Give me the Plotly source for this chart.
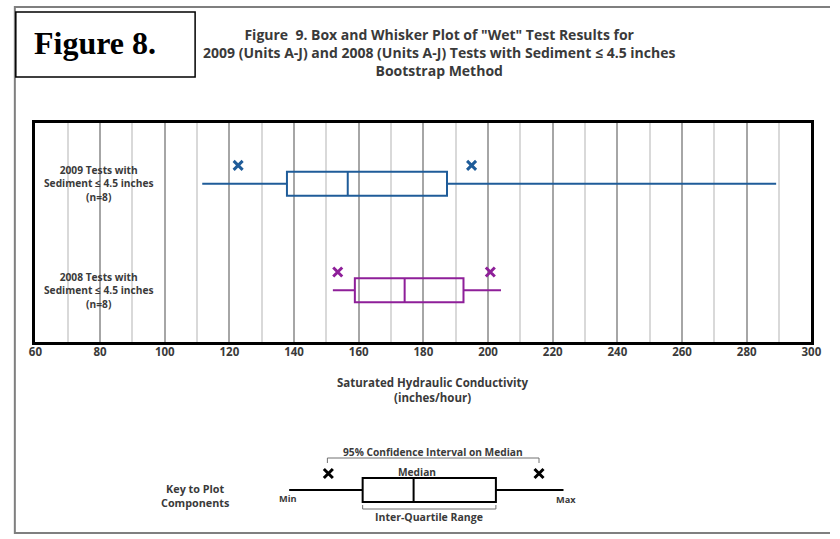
import plotly.graph_objects as go

W, H = 840, 539

# Summary statistics, saturated hydraulic conductivity (inches/hour)
group_labels = [
    "2009 Tests with<br>Sediment ≤ 4.5 inches<br>(n=8)",
    "2008 Tests with<br>Sediment ≤ 4.5 inches<br>(n=8)",
]
minimum = [111.6, 152.0]
q1 = [137.8, 158.8]
median = [156.6, 174.2]
q3 = [187.3, 192.4]
maximum = [289.1, 204.0]
ci_low = [122.7, 153.5]
ci_high = [194.9, 200.7]
x_ticks = list(range(60, 301, 20))

colors = ["#1F5C99", "#8E1F99"]
row_pos = [2, 1]
BOX_W = 0.225
X_OFFSET = 0.172

FONT = "Open Sans"
TXT = "#3a3a3a"

fig = go.Figure()

# Main box-and-whisker rows
for i in range(len(row_pos)):
    fig.add_trace(go.Box(
        orientation="h", y=[row_pos[i]],
        q1=[q1[i]], median=[median[i]], q3=[q3[i]],
        lowerfence=[minimum[i]], upperfence=[maximum[i]],
        width=BOX_W, whiskerwidth=0, boxpoints=False,
        line=dict(color=colors[i], width=2),
        fillcolor="rgba(255,255,255,0)",
        xaxis="x", yaxis="y", showlegend=False, hoverinfo="skip",
    ))
    fig.add_trace(go.Scatter(
        x=[ci_low[i], ci_high[i]], y=[row_pos[i] + X_OFFSET] * 2,
        mode="markers", xaxis="x", yaxis="y", showlegend=False, hoverinfo="skip",
        marker=dict(symbol="x-thin", size=9, line=dict(width=3, color=colors[i])),
    ))

# Key to plot components, drawn on a pixel-unit canvas axis
key_min, key_q1, key_med, key_q3, key_max = 288, 363, 415, 499, 568
key_ci = [328, 543]
key_y = 490
fig.add_trace(go.Box(
    orientation="h", y=[key_y], q1=[key_q1], median=[key_med], q3=[key_q3],
    lowerfence=[key_min], upperfence=[key_max], width=24, whiskerwidth=0,
    boxpoints=False, line=dict(color="black", width=2),
    fillcolor="rgba(255,255,255,0)", xaxis="x2", yaxis="y2",
    showlegend=False, hoverinfo="skip",
))
fig.add_trace(go.Scatter(
    x=key_ci, y=[key_y - 16.5] * 2, mode="markers", xaxis="x2", yaxis="y2",
    showlegend=False, hoverinfo="skip",
    marker=dict(symbol="x-thin", size=9, line=dict(width=3, color="black")),
))

shapes = [
    # page border: top, left and bottom edges (open to the right)
    dict(type="path", xref="x2", yref="y2",
         path="M 1000,7 L 8,7 L 8,533 L 1000,533",
         line=dict(color="#7f7f7f", width=2), layer="below"),
    # "Figure 8." frame
    dict(type="rect", xref="x2", yref="y2", x0=9, x1=192, y0=12, y1=77,
         line=dict(color="black", width=1.5)),
    # confidence interval bracket
    dict(type="path", xref="x2", yref="y2",
         path=f"M {key_ci[0]-1},463 L {key_ci[0]-1},458 L {key_ci[1]},458 L {key_ci[1]},463",
         line=dict(color="#707070", width=1)),
    # inter-quartile bracket
    dict(type="path", xref="x2", yref="y2",
         path=f"M {key_q1},505 L {key_q1},509 L {key_q3},509 L {key_q3},505",
         line=dict(color="#707070", width=1)),
]

def text(x, y, s, size, color=TXT, family=FONT, weight="bold", xanchor="center",
         yref="y2"):
    return dict(x=x, y=y, xref="x2", yref=yref, text=s, showarrow=False,
                xanchor=xanchor, yanchor="middle", align="center",
                font=dict(family=family, size=size, color=color, weight=weight))

annotations = [
    text(90, 43, "Figure 8.", 32, color="black", family="Liberation Serif"),
    text(441, 52.5,
         "Figure  9. Box and Whisker Plot of \"Wet\" Test Results for<br>"
         "2009 (Units A-J) and 2008 (Units A-J) Tests with Sediment ≤ 4.5 inches<br>"
         "Bootstrap Method", 14),
    text(435, 390, "Saturated Hydraulic Conductivity<br>(inches/hour)", 11.5),
    text(192, 495, "Key to Plot<br>Components", 10.8),
    text(435, 452, "95% Confidence Interval on Median", 10.2),
    text(418, 472, "Median", 10.2),
    text(431, 517, "Inter-Quartile Range", 10.5),
    text(287, 498, "Min", 9.2),
    text(571, 499, "Max", 9.2),
]
for i, label in enumerate(group_labels):
    annotations.append(text(93, row_pos[i], label, 10.2, yref="y"))

fig.update_layout(
    width=W, height=H, margin=dict(l=0, r=0, t=0, b=0),
    paper_bgcolor="white", plot_bgcolor="rgba(0,0,0,0)",
    shapes=shapes, annotations=annotations,
    xaxis=dict(
        domain=[29 / W, 821 / W], range=[60, 300],
        tickvals=x_ticks, ticks="", showline=True, mirror=True,
        linecolor="black", linewidth=2.5, ticklabelstandoff=-3,
        showgrid=True, gridcolor="#a6a6a6", gridwidth=1.5,
        minor=dict(dtick=10, showgrid=True, gridcolor="#d9d9d9", gridwidth=1.5),
        tickfont=dict(family=FONT, size=11.5, color=TXT, weight="bold"),
        zeroline=False, fixedrange=True,
    ),
    yaxis=dict(
        domain=[(H - 342) / H, (H - 123) / H], range=[0.515, 2.569],
        showticklabels=False, ticks="", showgrid=False, zeroline=False,
        showline=True, mirror=True, linecolor="black", linewidth=2.5,
    ),
    xaxis2=dict(domain=[0, 1], range=[0, W], visible=False, anchor="y2"),
    yaxis2=dict(domain=[0, 1], range=[H, 0], visible=False, anchor="x2"),
)

fig.write_html("out.html")
